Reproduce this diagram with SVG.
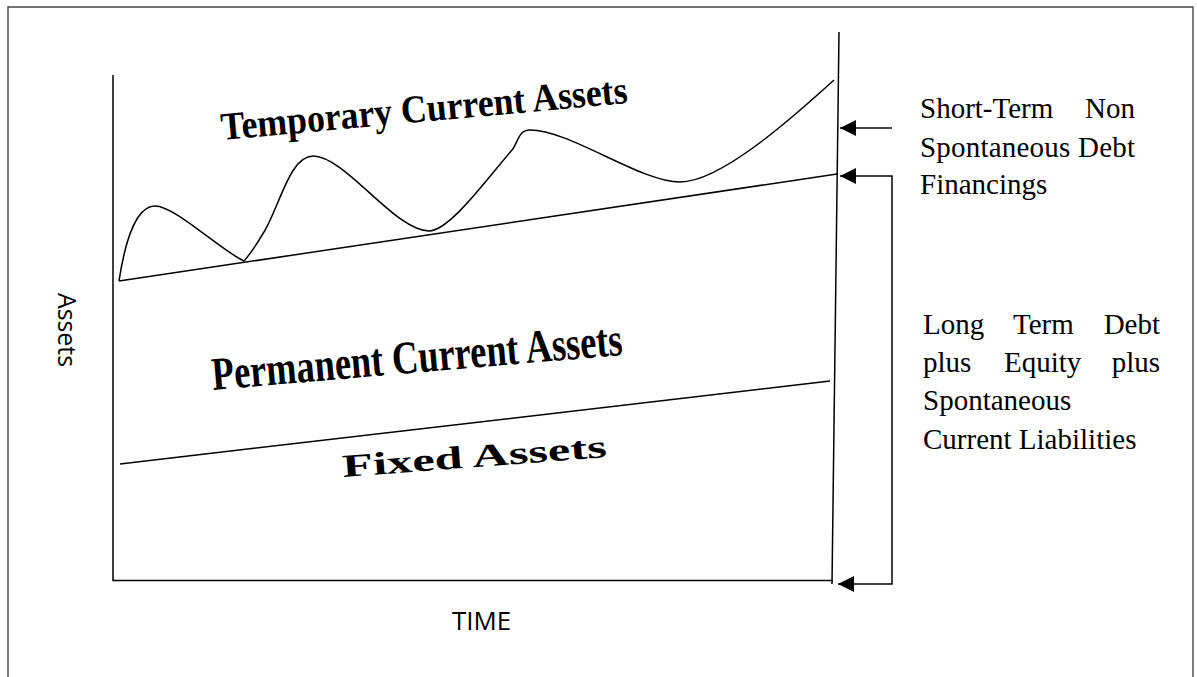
<svg xmlns="http://www.w3.org/2000/svg" width="1197" height="677" viewBox="0 0 1197 677">
<style>
.frame{fill:none;stroke:#444;stroke-width:1.4}
.ln{fill:none;stroke:#000;stroke-width:1.5}
.big{font-family:"Liberation Serif","Times New Roman",serif;font-weight:bold;fill:#000}
.lbl{font-family:"Liberation Serif","Times New Roman",serif;font-size:29px;fill:#000}
.sans{font-family:"Open Sans","Liberation Sans",sans-serif;fill:#000}
</style>
<defs>
<marker id="ah" markerUnits="userSpaceOnUse" markerWidth="16" markerHeight="16" viewBox="0 0 15 15" refX="15" refY="7.5" orient="auto-start-reverse">
<path d="M0,0 L15,7.5 L0,15 z" fill="#000"/>
</marker>
</defs>
<rect width="1197" height="677" fill="#fff"/>
<g id="frame">
<path class="frame" d="M8,677 L8,7 L1193,7 L1193,677"/>
</g>
<g id="axes">
<path class="ln" d="M113,75 L113,580.5 L833,580.5"/>
<path class="ln" d="M839,32 L832,584"/>
</g>
<g id="curves">
<path id="permanent-line" class="ln" d="M119,281 L837,174"/>
<path id="fixed-line" class="ln" d="M120,464 L830,381"/>
<path id="temporary-wave" class="ln" d="M119,281 C126,235 138,206 155,206 C175,206 220,250 244,261 C252,252 258,242 264,232 C280,205 290,156 313,156 C345,156 395,231 429,231 C450,231 490,175 512,150 C518,143 518,130 530,130 C570,130 640,182 680,182 C720,182 790,120 834,80"/>
</g>
<g id="connectors">
<path class="ln" d="M892,128 L840,128" marker-end="url(#ah)"/>
<path class="ln" d="M840,176 L892,176 L892,584 L838,584" marker-start="url(#ah)" marker-end="url(#ah)"/>
</g>
<g id="temporary-label">
<text class="big" font-size="35" textLength="408" lengthAdjust="spacingAndGlyphs" transform="translate(222,140) rotate(-5.2) scale(1,1.12)">Temporary Current Assets</text>
</g>
<g id="permanent-label">
<text class="big" font-size="36" textLength="412" lengthAdjust="spacingAndGlyphs" transform="translate(213,390) rotate(-4.9) scale(1,1.3)">Permanent Current Assets</text>
</g>
<g id="fixed-label">
<text class="big" font-size="32" textLength="265" lengthAdjust="spacingAndGlyphs" transform="translate(343,477) rotate(-4.3)">Fixed Assets</text>
</g>
<g id="y-label">
<text class="sans" font-size="25" textLength="74" lengthAdjust="spacingAndGlyphs" transform="translate(58,293) rotate(90)">Assets</text>
</g>
<g id="x-label">
<text class="sans" font-size="26" x="452" y="630" textLength="59" lengthAdjust="spacingAndGlyphs">TIME</text>
</g>
<g id="short-term-label">
<text class="lbl" x="920" y="118">Short-Term</text>
<text class="lbl" x="1135" y="118" text-anchor="end">Non</text>
<text class="lbl" x="920" y="157" textLength="215">Spontaneous Debt</text>
<text class="lbl" x="920" y="194">Financings</text>
</g>
<g id="long-term-label">
<text class="lbl" x="923" y="334">Long</text>
<text class="lbl" x="1013" y="334">Term</text>
<text class="lbl" x="1160" y="334" text-anchor="end">Debt</text>
<text class="lbl" x="923" y="372">plus</text>
<text class="lbl" x="1004" y="372">Equity</text>
<text class="lbl" x="1160" y="372" text-anchor="end">plus</text>
<text class="lbl" x="923" y="410">Spontaneous</text>
<text class="lbl" x="923" y="449">Current Liabilities</text>
</g>
</svg>
